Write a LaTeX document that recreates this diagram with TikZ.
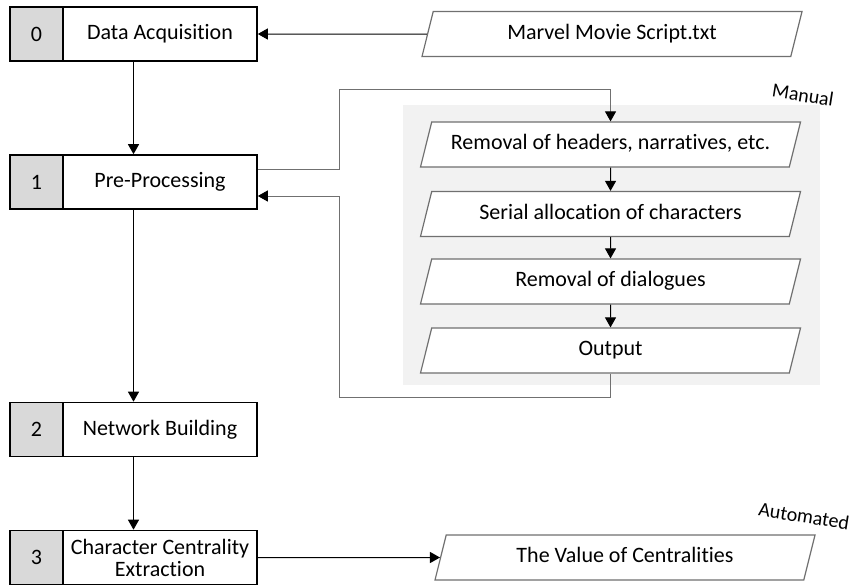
\documentclass[tikz,border=0pt]{standalone}
\usepackage{fontspec}
\setmainfont{Carlito}[Ligatures=NoCommon]
\usetikzlibrary{arrows.meta}
\usetikzlibrary{shapes.geometric}
\usetikzlibrary{calc}

\definecolor{numgray}{HTML}{D9D9D9}
\definecolor{bggray}{HTML}{F2F2F2}
\definecolor{edgegray}{HTML}{707070}

\begin{document}
\begin{tikzpicture}[x=1pt, y=-1pt,
    every node/.style={font=\fontsize{22}{25}\selectfont},
    numbox/.style={rectangle, draw, line width=1.6pt, fill=numgray, minimum width=53pt, minimum height=54pt, inner sep=0pt},
    stepbox/.style={rectangle, draw, line width=1.6pt, fill=white, minimum width=194pt, minimum height=54pt, inner sep=0pt, align=center},
    databox/.style={trapezium, trapezium left angle=76, trapezium right angle=104, trapezium stretches body, draw=edgegray, line width=1.2pt, fill=white, text height=16pt, text depth=6pt, inner ysep=11.5pt, inner xsep=0pt, minimum width=380pt},
    arr/.style={line width=1pt, -{Triangle[length=10pt, width=11pt]}},
    loopline/.style={draw=edgegray, line width=1pt, -{Triangle[length=10pt, width=11pt, color=black]}},
    tag/.style={font=\fontsize{20}{22}\selectfont, rotate=-9}]

        \useasboundingbox (0,0) rectangle (854,587);

        % Manual block
        \node[fill=bggray, minimum width=417pt, minimum height=280pt, inner sep=0pt] (bg) at (611.5,245) {};
        \node[tag] (manual) at (803,95) {Manual};

        % Steps
        \node[numbox] (n0) at (36.5,34) {0};
        \node[stepbox] (s0) at (160,34) {Data Acquisition};
        \node[numbox] (n1) at (36.5,182) {1};
        \node[stepbox] (s1) at (160,182) {Pre-Processing};
        \node[numbox] (n2) at (36.5,429.5) {2};
        \node[stepbox] (s2) at (160,429.5) {Network Building};
        \node[numbox] (n3) at (36.5,557.5) {3};
        \node[stepbox] (s3) at (160,557.5) {Character Centrality\\[-3pt]Extraction};

        % Data
        \node[databox] (m) at (612,34) {Marvel Movie Script.txt};
        \node[databox] (r1) at (610.5,144.5) {Removal of headers, narratives, etc.};
        \node[databox] (r2) at (610.5,214) {Serial allocation of characters};
        \node[databox] (r3) at (610.5,281.5) {Removal of dialogues};
        \node[databox] (r4) at (610.5,350.5) {Output};
        \node[databox] (v) at (625,557.5) {The Value of Centralities};
        \node[tag] (auto) at (804,516) {Automated};

        \coordinate (lt) at (339,89);
        \coordinate (lb) at (339,397);

        % Arrows
        \draw[arr] (m) -- (s0);
        \draw[arr] ($(n0.south west)!.5!(s0.south east)$) -- ($(n1.north west)!.5!(s1.north east)$);
        \draw[arr] ($(n1.south west)!.5!(s1.south east)$) -- ($(n2.north west)!.5!(s2.north east)$);
        \draw[arr] ($(n2.south west)!.5!(s2.south east)$) -- ($(n3.north west)!.5!(s3.north east)$);
        \draw[arr] (s3) -- (v);
        \draw[arr] (r1) -- (r2);
        \draw[arr] (r2) -- (r3);
        \draw[arr] (r3) -- (r4);
        \draw[loopline] ([yshift=13pt]s1.east) -| (lt) -| (r1.north);
        \draw[loopline] (r4.south) |- (lb) |- ([yshift=-14pt]s1.east);

    \end{tikzpicture}
\end{document}
